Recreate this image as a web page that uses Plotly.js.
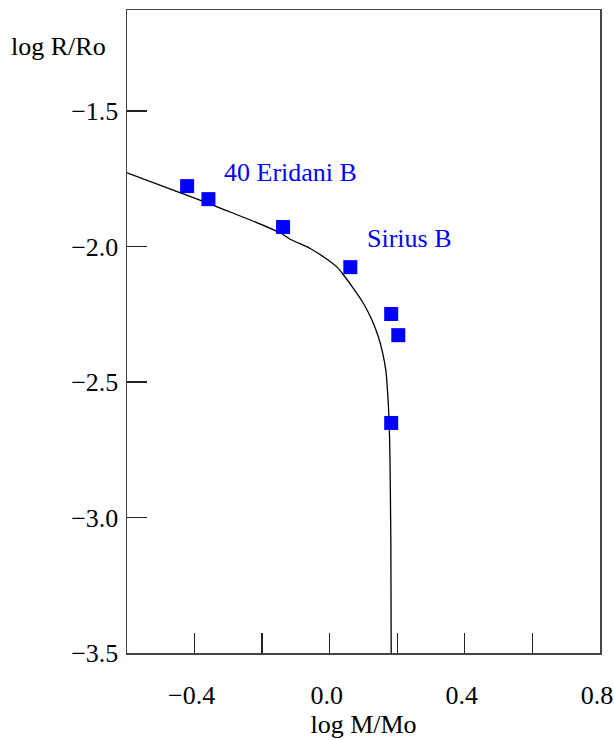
<!DOCTYPE html>
<html>
<head>
<meta charset="utf-8">
<script src="https://cdn.plot.ly/plotly-3.0.1.min.js"></script>
<style>html,body{margin:0;padding:0;background:#fff;}#chart{width:614px;height:740px;}</style>
</head>
<body>
<div id="chart"></div>
<script>
// Observed white dwarfs (log M/Mo, log R/Ro)
var starMass = [-0.422, -0.359, -0.138, 0.061, 0.182, 0.203, 0.182];
var starRadius = [-1.777, -1.825, -1.928, -2.076, -2.249, -2.327, -2.651];

// Theoretical mass-radius relation
var curveMass = [-0.600, -0.463, -0.324, -0.146, -0.117, -0.058, -0.018, 0.021, 0.041, 0.070, 0.100, 0.125, 0.144, 0.157, 0.166, 0.171, 0.176, 0.179, 0.181, 0.182];
var curveRadius = [-1.728, -1.792, -1.858, -1.950, -1.973, -2.007, -2.038, -2.075, -2.105, -2.154, -2.210, -2.271, -2.333, -2.394, -2.456, -2.530, -2.652, -2.836, -3.083, -3.500];

// Labels
var labelText = ["40 Eridani B", "Sirius B"];
var labelMass = [-0.318, 0.105];
var labelRadius = [-1.725, -1.972];

var xTickVals = [-0.4, -0.2, 0.0, 0.2, 0.4, 0.6, 0.8];
var xTickText = ["\u22120.4", "", "0.0", "", "0.4", "", "0.8"];
var yTickVals = [-1.5, -2.0, -2.5, -3.0, -3.5];
var yTickText = ["\u22121.5", "\u22122.0", "\u22122.5", "\u22123.0", "\u22123.5"];

var font = "Liberation Serif";

var traces = [
  {x: curveMass, y: curveRadius, mode: "lines", type: "scatter",
   line: {color: "#000000", width: 1.3, shape: "spline", smoothing: 1}, hoverinfo: "skip"},
  {x: starMass, y: starRadius, mode: "markers", type: "scatter",
   marker: {symbol: "square", size: 14, color: "#0000ff"}}
];

var annotations = labelText.map(function(t, i){
  return {x: labelMass[i], y: labelRadius[i], xref: "x", yref: "y", text: t, showarrow: false,
          xanchor: "left", yanchor: "middle", font: {family: font, size: 26, color: "#0000ff"}};
});
annotations.push({x: -0.0395, y: 0.9425, xref: "paper", yref: "paper", text: "log R/Ro", showarrow: false,
  xanchor: "right", yanchor: "middle", font: {family: font, size: 26, color: "#000000"}});

var layout = {
  width: 614, height: 740,
  margin: {l: 127, r: 14, t: 10, b: 87},
  paper_bgcolor: "#ffffff", plot_bgcolor: "#ffffff",
  showlegend: false,
  font: {family: font, size: 26, color: "#000000"},
  xaxis: {
    range: [-0.6, 0.8001], tickvals: xTickVals, ticktext: xTickText,
    ticks: "inside", ticklen: 20, tickwidth: 1.3, tickcolor: "#222",
    showline: true, linecolor: "#444", linewidth: 1.5, mirror: true,
    showgrid: false, zeroline: false, ticklabelstandoff: 18,
    ticklabeloverflow: "allow", ticklabelshift: -3,
    tickfont: {family: font, size: 26},
    title: {text: "log M/Mo", font: {family: font, size: 26}, standoff: 4}
  },
  yaxis: {
    range: [-3.5, -1.127], tickvals: yTickVals, ticktext: yTickText,
    ticks: "inside", ticklen: 20, tickwidth: 1.3, tickcolor: "#222",
    showline: true, linecolor: "#444", linewidth: 1.5, mirror: true,
    showgrid: false, zeroline: false, ticklabelstandoff: 2,
    ticklabeloverflow: "allow",
    tickfont: {family: font, size: 26}
  },
  annotations: annotations
};

Plotly.newPlot("chart", traces, layout, {displayModeBar: false, staticPlot: true});
</script>
</body>
</html>
